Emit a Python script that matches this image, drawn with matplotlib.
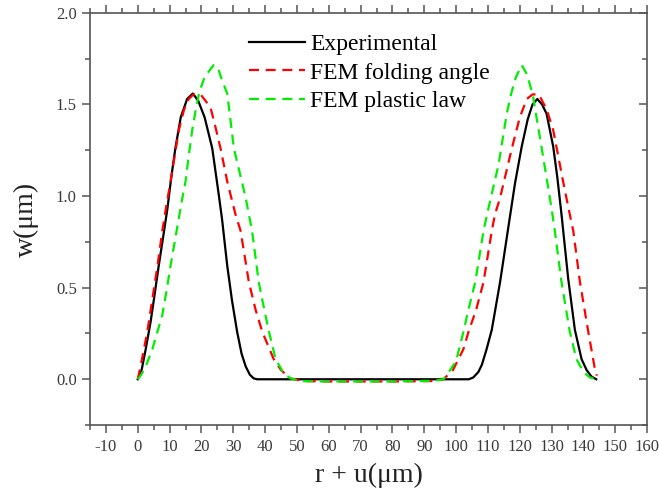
import matplotlib
matplotlib.use("Agg")
import matplotlib.pyplot as plt
from matplotlib.ticker import MultipleLocator, FormatStrFormatter
from matplotlib import lines as mlines

plt.rcParams['font.family'] = ['Liberation Serif', 'DejaVu Serif']
plt.rcParams['axes.unicode_minus'] = False

# measured profile (black)
exp_x = [0, 1.2, 2.5, 4, 5.1, 6.5, 8, 9.3, 10.5, 11.8, 13.5, 15.5, 17.3, 19, 21, 23.4,
         25.5, 26.5, 28.1, 29.6, 31.2, 32.6, 33.9, 35.2, 36.4, 37.5, 104, 105.4, 107,
         108.1, 109.5, 111.2, 113.8, 116.4, 118.5, 120.6, 122.5, 124, 125.5, 127, 128.4,
         130.5, 131.8, 133.1, 135.2, 137.3, 139.4, 141, 142.5, 144]
exp_y = [0, 0.05, 0.165, 0.31, 0.44, 0.61, 0.78, 0.93, 1.1, 1.26, 1.43, 1.53, 1.56, 1.52,
         1.43, 1.26, 1.0, 0.87, 0.62, 0.43, 0.26, 0.14, 0.07, 0.025, 0.005, 0.0, 0.0, 0.01,
         0.04, 0.08, 0.16, 0.27, 0.53, 0.83, 1.07, 1.27, 1.42, 1.5, 1.53, 1.5, 1.45, 1.27,
         1.1, 0.9, 0.55, 0.27, 0.11, 0.05, 0.015, 0]

# FEM, folding angle model (red)
fold_x = [0, 0.9, 3.0, 4.6, 6.2, 7.7, 9, 10.3, 11.6, 12.9, 14.5, 16, 17.5, 19.7, 21.3,
          22.9, 24.5, 26, 28.1, 30.7, 32.3, 34.9, 37, 39.1, 42.7, 45, 48, 52, 60, 80, 92,
          96, 99, 102.3, 103.9, 106.3, 108.6, 111.2, 112.2, 113.8, 117.5, 120, 122.2, 124,
          126, 128.5, 130.5, 133.6, 135.7, 136.8, 138.9, 141.5, 143.6, 144.2]
fold_y = [0, 0.073, 0.26, 0.44, 0.62, 0.81, 0.95, 1.08, 1.22, 1.36, 1.47, 1.53, 1.555,
          1.555, 1.52, 1.48, 1.37, 1.26, 1.08, 0.9, 0.81, 0.53, 0.38, 0.26, 0.11, 0.05,
          0.005, -0.01, -0.012, -0.012, -0.01, 0.0, 0.05, 0.165, 0.26, 0.38, 0.53, 0.81,
          0.9, 0.99, 1.26, 1.43, 1.53, 1.555, 1.555, 1.47, 1.36, 1.08, 0.9, 0.81, 0.53,
          0.26, 0.055, 0.02]

# FEM, plastic law model (green)
plast_x = [0, 0.9, 2.5, 4.6, 6, 7.7, 9, 10.3, 12.2, 14, 15, 16, 17.1, 18.3, 19.3, 21,
           23.8, 25.2, 26.5, 28.1, 30.2, 33.9, 35.9, 38, 39.5, 41.2, 43.3, 45.9, 48, 51,
           60, 80, 93, 96, 98.1, 100, 102.3, 104, 106, 108.6, 110.1, 113.3, 115.9, 117.3,
           118.8, 120.6, 122.4, 124.2, 126.9, 130, 131, 133.1, 135.7, 137.8, 140, 142, 144]
plast_y = [0, 0.02, 0.07, 0.165, 0.25, 0.35, 0.48, 0.62, 0.81, 0.99, 1.08, 1.22, 1.36,
           1.48, 1.566, 1.65, 1.715, 1.70, 1.63, 1.56, 1.26, 0.99, 0.81, 0.53, 0.4, 0.26,
           0.11, 0.03, 0.005, -0.01, -0.012, -0.012, -0.008, 0, 0.05, 0.1, 0.26, 0.39,
           0.53, 0.81, 0.93, 1.17, 1.45, 1.56, 1.65, 1.715, 1.66, 1.54, 1.26, 0.93, 0.81,
           0.53, 0.26, 0.11, 0.04, 0.01, 0]

labels = ["Experimental", "FEM folding angle", "FEM plastic law"]

fig = plt.figure(figsize=(6.59, 4.96), dpi=100)
ax = fig.add_axes([0.1366, 0.143, 0.8454, 0.831])

ax.plot(exp_x, exp_y, color="black", lw=1.6, label=labels[0])
ax.plot(fold_x, fold_y, color="#ff0000", lw=1.6, ls=(0, (4.5, 3)), label=labels[1])
ax.plot(plast_x, plast_y, color="#00ee00", lw=1.6, ls=(0, (4.5, 3)), label=labels[2])

ax.set_xlim(-15, 160)
ax.set_ylim(-0.25, 2.0)
ax.xaxis.set_major_locator(MultipleLocator(10))
ax.xaxis.set_minor_locator(MultipleLocator(5))
ax.yaxis.set_major_locator(MultipleLocator(0.5))
ax.yaxis.set_minor_locator(MultipleLocator(0.25))
ax.set_xticks(range(-10, 161, 10))
ax.yaxis.set_major_formatter(FormatStrFormatter('%.1f'))

spine_col = "#555555"
for s in ax.spines.values():
    s.set_color(spine_col)
    s.set_linewidth(1.2)

ax.tick_params(which="both", colors=spine_col, labelcolor="#3a3a3a", labelsize=12, width=1.1)
ax.tick_params(which="major", length=6)
ax.tick_params(which="minor", length=3.5)
ax.tick_params(axis="x", which="both", top=True, direction="out", pad=4)
ax.tick_params(axis="y", which="both", right=True, direction="out")

# top ticks point up, right ticks point into the plot
for t in ax.xaxis.get_major_ticks() + ax.xaxis.get_minor_ticks():
    t.tick2line.set_marker(mlines.TICKUP)
for t in ax.yaxis.get_major_ticks() + ax.yaxis.get_minor_ticks():
    t.tick2line.set_marker(mlines.TICKLEFT)

ax.set_xlabel("r + u(μm)", fontsize=20, color="#222222", labelpad=6)
ax.set_ylabel("w(μm)", fontsize=20, color="#222222", labelpad=12)

ax.legend(loc="upper left", bbox_to_anchor=(0.285, 0.95), frameon=False, fontsize=17,
          handlelength=2.4, handletextpad=0.2, labelspacing=0.3, borderpad=0,
          borderaxespad=0)

fig.savefig("out.png", dpi=100)
